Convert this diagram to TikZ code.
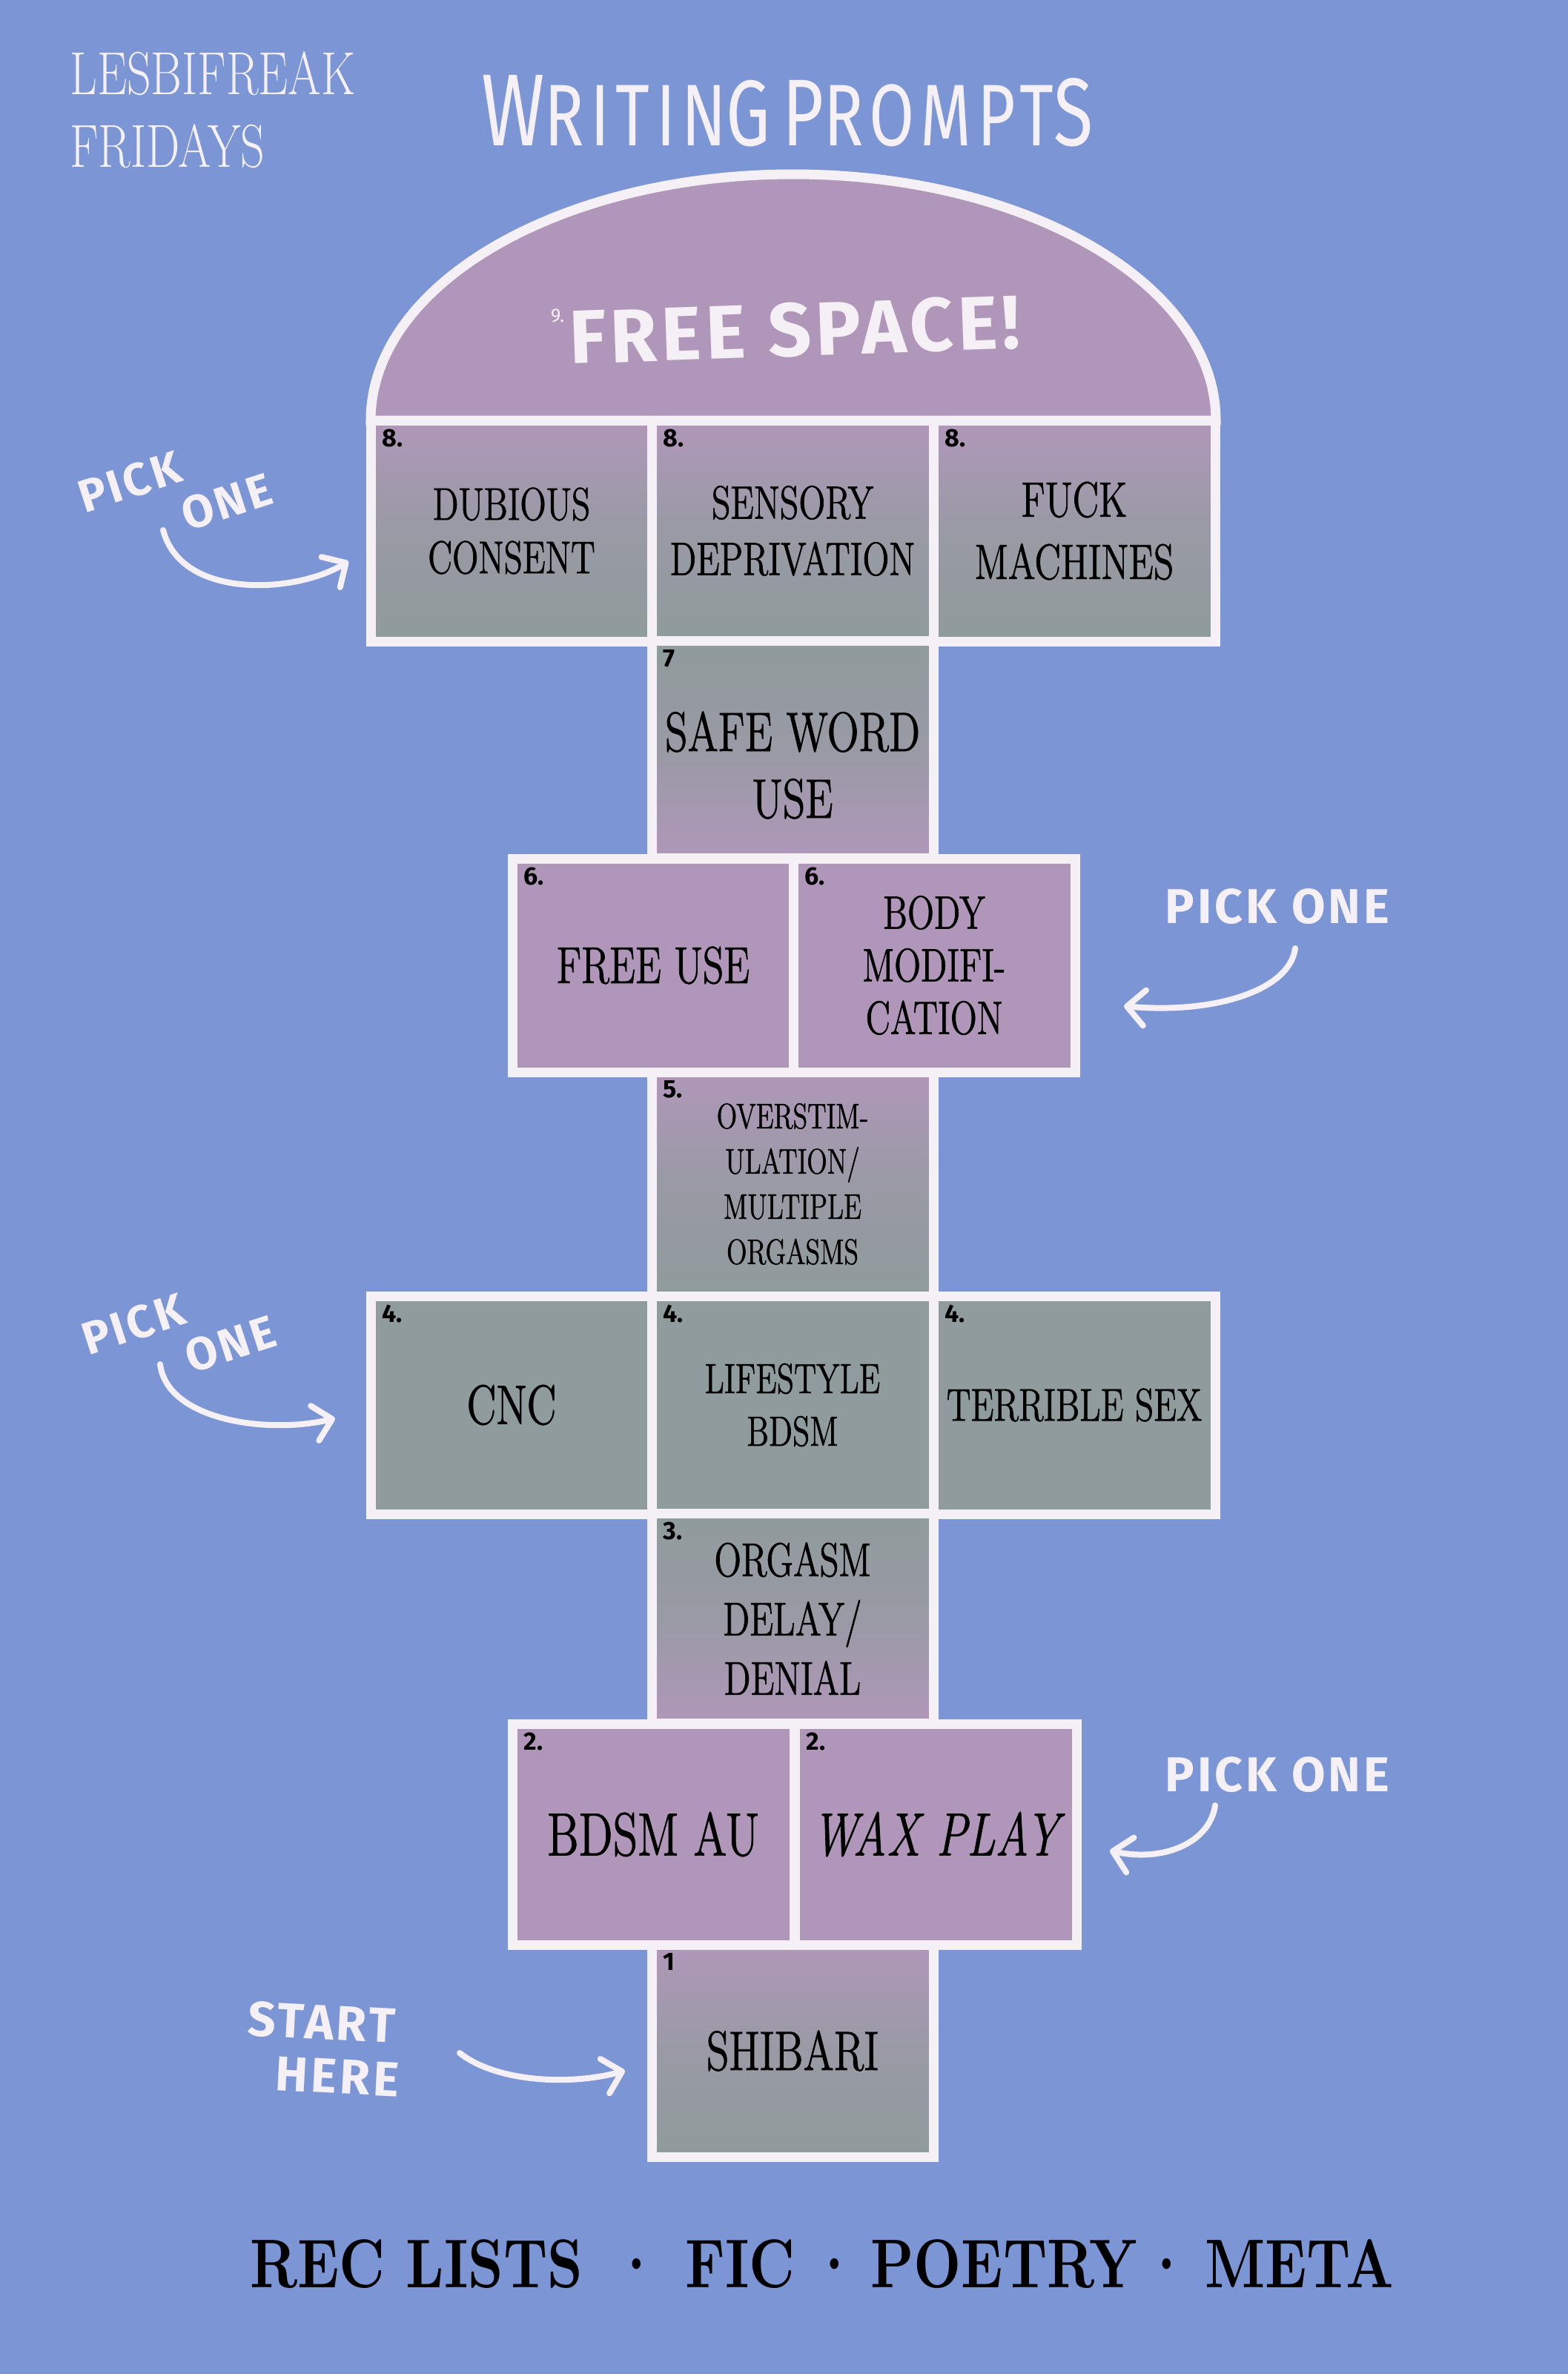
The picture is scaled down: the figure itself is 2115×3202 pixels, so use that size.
\documentclass[tikz,border=0pt]{standalone}
\usepackage{fontspec}
\usetikzlibrary{arrows.meta}

\newfontfamily\boxfont{lmroman12-regular.otf}[FakeStretch=0.75, FakeBold=1]
\newfontfamily\boxital{lmroman12-italic.otf}[FakeStretch=0.76, FakeBold=1]
\newfontfamily\brandfont{lmroman17-regular.otf}[FakeStretch=0.78]
\newfontfamily\footfont{lmroman10-bold.otf}[FakeStretch=0.8]
\newfontfamily\handfont{Fira Sans}[LetterSpace=6]
\newfontfamily\numfont{Fira Sans}
\newfontfamily\titlefont{Fira Sans}[FakeStretch=0.75, LetterSpace=7]
\newcommand\fsz[2]{\fontsize{#1}{#2}\selectfont}

\definecolor{bgblue}{HTML}{7B95D5}
\definecolor{mauve}{HTML}{B097B9}
\definecolor{sage}{HTML}{8F9B9C}
\definecolor{chalk}{HTML}{F5F0F5}

\tikzset{
	cell/.style={draw=chalk, line width=13pt, minimum width=380pt, inner sep=0pt, align=center, text=black},
	mauvecell/.style={cell, fill=mauve},
	sagecell/.style={cell, fill=sage},
	fadedown/.style={cell, top color=mauve, bottom color=sage, middle color=sage!70!mauve},
	fadeup/.style={cell, top color=sage, bottom color=mauve, middle color=sage!70!mauve},
	txt/.style 2 args={font={\boxfont\fsz{#1}{#2}}},
	num/.style={font={\numfont\bfseries\fsz{34}{34}}, text=black, inner sep=0pt, anchor=north west},
	hand/.style={font={\handfont\bfseries\fsz{#1}{#1}}, text=chalk, inner sep=0pt},
	footword/.style={anchor=base west, inner sep=0pt, text=black, font={\footfont\fsz{93}{93}}},
	footdot/.style={anchor=base, inner sep=0pt, text=black, font={\footfont\fsz{93}{93}}},
	hand arrow/.style={draw=chalk, line width=8pt, line cap=round, -{Straight Barb[length=24pt, width=48pt, round]}}
}

\begin{document}
\begin{tikzpicture}[x=1pt, y=1pt]
	\fill[bgblue] (0, 0) rectangle (2115, -3202);
	\useasboundingbox (0, 0) rectangle (2115, -3202);

	\node[anchor=north west, align=left, inner sep=0pt, text=chalk, font={\brandfont\fsz{82}{98}}] (brand) at (94, -69) {LESBIFREAK\\FRIDAYS};
	\node[anchor=base, inner sep=0pt, text=chalk, font={\titlefont\fsz{118}{118}}] (title) at (1062, -196) {{\fsz{138}{138}W}RITIN{\fsz{126}{126}G}\hspace{16pt}{\fsz{128}{128}P}ROMPT{\fsz{130}{130}S}};

	\draw[draw=chalk, line width=13pt, fill=mauve] (500, -567) arc[start angle=180, end angle=0, x radius=570, y radius=332] -- cycle;
	\node[hand=102, rotate=2] (free) at (1072, -445) {FREE SPACE!};
	\node[font={\numfont\fsz{26}{26}}, text=chalk, inner sep=0pt] (n9) at (752, -426) {9.};

	\node[fadedown, minimum height=298pt, txt={62}{72}] (dubious) at (690, -716) {DUBIOUS\\CONSENT};
	\node[fadedown, minimum height=298pt, txt={63}{76}] (sensory) at (1069, -716) {SENSORY\\DEPRIVATION};
	\node[fadedown, minimum height=298pt, txt={67}{84}] (fuck) at (1449, -716) {FUCK\\MACHINES};

	\node[fadeup, minimum height=293pt] (safe) at (1069, -1011) {};
	\node[txt={75}{90}, align=center] (safetext) at (1069, -1032) {SAFE WORD\\USE};

	\node[mauvecell, minimum height=288pt, txt={70}{70}] (freeuse) at (881, -1302) {FREE USE};
	\node[mauvecell, minimum height=288pt, txt={63}{71}] (body) at (1260, -1302) {BODY\\MODIFI-\\CATION};

	\node[fadedown, minimum height=302pt, txt={48}{61}] (overstim) at (1069, -1597) {OVERSTIM-\\ULATION/\\MULTIPLE\\ORGASMS};

	\node[sagecell, minimum height=294pt, txt={75}{75}] (cnc) at (690, -1895) {CNC};
	\node[sagecell, minimum height=294pt, txt={57}{71}] (lifestyle) at (1069, -1895) {LIFESTYLE\\BDSM};
	\node[sagecell, minimum height=294pt, txt={62}{62}] (terrible) at (1449, -1895) {TERRIBLE SEX};

	\node[fadeup, minimum height=283pt, txt={64}{80}] (delay) at (1069, -2183) {ORGASM\\DELAY/\\DENIAL};

	\node[mauvecell, minimum height=298pt, txt={82}{82}] (bdsmau) at (881, -2474) {BDSM AU};
	\node[mauvecell, minimum height=298pt, font={\boxital\fsz{82}{82}}] (wax) at (1262, -2474) {WAX PLAY};

	\node[fadedown, minimum height=286pt, txt={75}{75}] (shibari) at (1069, -2766) {SHIBARI};

	\foreach \b/\n in {dubious/8., sensory/8., fuck/8., safe/7, freeuse/6., body/6., overstim/5., cnc/4., lifestyle/4., terrible/4., delay/3., bdsmau/2., wax/2., shibari/1}
		\node[num] at ([shift={(22, -18)}]\b.north west) {\n};

	\node[hand=62, rotate=18, align=left] (pickA) at (236, -665) {PICK\\[4pt]\hspace*{125pt}ONE};
	\node[hand=66] (pickB) at (1723, -1223) {PICK ONE};
	\node[hand=62, rotate=18, align=left] (pickC) at (241, -1801) {PICK\\[4pt]\hspace*{125pt}ONE};
	\node[hand=66] (pickD) at (1723, -2394) {PICK ONE};
	\node[hand=66, rotate=-3, align=center] (start) at (432, -2763) {START\\[6pt]\hspace*{50pt}HERE};

	\coordinate (aAs) at (220, -715);
	\coordinate (aAe) at (470, -757);
	\coordinate (aBs) at (1747, -1279);
	\coordinate (aBe) at (1516, -1357);
	\coordinate (aCs) at (216, -1840);
	\coordinate (aCe) at (452, -1913);
	\coordinate (aDs) at (1639, -2435);
	\coordinate (aDe) at (1497, -2496);
	\coordinate (aEs) at (620, -2769);
	\coordinate (aEe) at (843, -2793);

	\draw[hand arrow] (aAs) .. controls (245, -810) and (400, -800) .. (aAe);
	\draw[hand arrow] (aBs) .. controls (1740, -1335) and (1640, -1368) .. (aBe);
	\draw[hand arrow] (aCs) .. controls (225, -1915) and (360, -1935) .. (aCe);
	\draw[hand arrow] (aDs) .. controls (1632, -2485) and (1570, -2512) .. (aDe);
	\draw[hand arrow] (aEs) .. controls (665, -2805) and (760, -2815) .. (aEe);

	\node[footword] (rec) at (337, -3085) {REC LISTS};
	\node[footdot] (dotA) at (859, -3085) {\textperiodcentered};
	\node[footword] (fic) at (924, -3085) {FIC};
	\node[footdot] (dotB) at (1126, -3085) {\textperiodcentered};
	\node[footword] (poetry) at (1174, -3085) {POETRY};
	\node[footdot] (dotC) at (1574, -3085) {\textperiodcentered};
	\node[footword] (meta) at (1625, -3085) {META};
\end{tikzpicture}
\end{document}
